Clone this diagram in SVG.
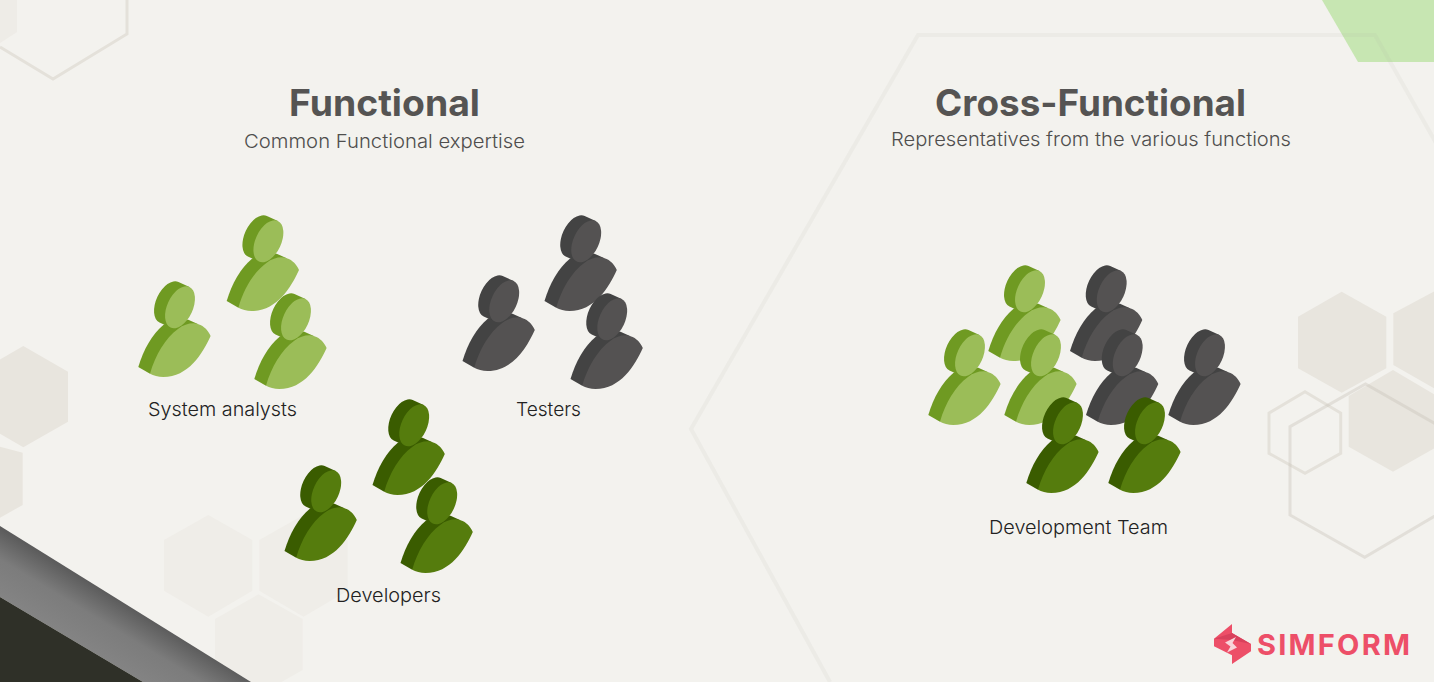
<svg xmlns="http://www.w3.org/2000/svg" xmlns:xlink="http://www.w3.org/1999/xlink" width="1434" height="682" viewBox="0 0 1434 682">
<style>
text{font-family:"Inter","Liberation Sans",sans-serif}
.title{font-size:37px;font-weight:700;fill:#555453}
.sub{font-size:19px;font-weight:300;fill:#4f4e4d}
.label{font-size:19px;font-weight:300;fill:#222}
.hex{fill:#e8e5de}
.hexl{fill:#efede8}
.line{fill:none;stroke:#e4e1da;stroke-width:3}
.big{fill:none;stroke:#b5b0a4;stroke-opacity:.1;stroke-width:4}
.s{fill:var(--s)}.f{fill:var(--f)}
.lg{--f:#9bbd58;--s:#6f9a22}
.gr{--f:#545252;--s:#434343}
.dg{--f:#557c0d;--s:#3a5c00}
</style>
<defs>
<linearGradient id="band" gradientUnits="userSpaceOnUse" x1="125" y1="604" x2="94" y2="655">
<stop offset="0" stop-color="#5c5c5c"/><stop offset=".45" stop-color="#7c7c7c"/><stop offset="1" stop-color="#848484"/>
</linearGradient>
<g id="person">
<path class="s" d="M0 85C5 68 14 52 25 43C32 38 42 37 50 37.7L60 42.3L40 70L11.7 91.7Z"/>
<path class="f" d="M11.7 91.7C17 73 27 56 40 46.7C46 42 55 40 60 42.3C66 44 70 49 72.3 54C64 72 50 95 25 95C20 95 15 93.5 11.7 91.7Z"/>
<path class="s" d="M51.2 5L40.2 0A12.8 22.4 25 0 0 21.2 40.6L32.2 45.6Z"/>
<ellipse class="f" cx="41.7" cy="25.3" rx="12.8" ry="22.4" transform="rotate(25 41.7 25.3)"/>
</g>
</defs>
<rect width="1434" height="682" fill="#f3f2ee"/>
<g id="background">
<polygon points="1322,0 1434,0 1434,62 1358,62" fill="#c7e6b2"/>
<polygon class="hex" points="0,0 17,0 17,32 0,43" opacity=".45"/>
<polygon class="hex" points="23.3,346 68,371.7 68,421.7 23.3,447.3 -21,421.7 -21,371.7"/>
<polygon class="hex" points="-22,441 22.7,452.7 22.7,505 -22,530"/>
<polygon class="hexl" points="208.3,515 252.3,540 252.3,590.7 208.3,616.7 164,590.7 164,540"/>
<polygon class="hexl" points="303.5,515 347.6,540 347.6,590.7 303.5,616.7 259.3,590.7 259.3,540"/>
<polygon class="hexl" points="258.5,594.3 302.7,619 302.7,670 258.5,695 215,670 215,619"/>
<polygon class="hex" points="1341.7,291.7 1386.3,316.7 1386.3,368.3 1341.7,392.7 1298,368.3 1298,316.7"/>
<polygon class="hex" points="1437,290 1481,313 1481,365 1437,390 1393.3,365 1393.3,313.3"/>
<polygon class="hex" points="1393,370 1437,396 1437,446.7 1393,471.7 1348.7,446.7 1348.7,396"/>
<polyline class="line" points="127,0 127,34 53,79 0,47"/>
<polygon class="line" points="1305,391.7 1340.7,413 1340.7,453.3 1305,473.3 1269,453.3 1269,413"/>
<path class="line" d="M1440 426.5L1365.5 384L1290 426.7V515L1364.7 557.3L1440 513" style="stroke:#c9c4b8;stroke-opacity:.4"/>
<polyline class="big" points="830,682 691,429 918,35 1375,35 1440,150"/>
<polygon points="0,526 251,682 143,682 0,597" fill="url(#band)"/>
<polygon points="0,597 143,682 0,682" fill="#2f3028"/>
</g>
<g id="functional-heading">
<text class="title" x="384.5" y="116" text-anchor="middle" textLength="191" lengthAdjust="spacingAndGlyphs">Functional</text>
<text class="sub" x="384.5" y="148" text-anchor="middle" textLength="281" lengthAdjust="spacingAndGlyphs">Common Functional expertise</text>
</g>
<g id="cross-functional-heading">
<text class="title" x="1090.5" y="116" text-anchor="middle" textLength="311" lengthAdjust="spacingAndGlyphs">Cross-Functional</text>
<text class="sub" x="1091" y="146" text-anchor="middle" textLength="400" lengthAdjust="spacingAndGlyphs">Representatives from the various functions</text>
</g>
<g id="system-analysts" class="lg">
<use href="#person" x="226.7" y="216"/>
<use href="#person" x="138.3" y="282"/>
<use href="#person" x="254.3" y="294"/>
<text class="label" x="222.5" y="416" text-anchor="middle" textLength="149" lengthAdjust="spacingAndGlyphs">System analysts</text>
</g>
<g id="testers" class="gr">
<use href="#person" x="544.5" y="216"/>
<use href="#person" x="462.5" y="276"/>
<use href="#person" x="570.5" y="294"/>
<text class="label" x="548.5" y="416" text-anchor="middle" textLength="65" lengthAdjust="spacingAndGlyphs">Testers</text>
</g>
<g id="developers" class="dg">
<use href="#person" x="372.5" y="400"/>
<use href="#person" x="284.5" y="466"/>
<use href="#person" x="400.5" y="478"/>
<text class="label" x="388.5" y="602" text-anchor="middle" textLength="105" lengthAdjust="spacingAndGlyphs">Developers</text>
</g>
<g id="development-team">
<g class="lg">
<use href="#person" x="988.3" y="266"/>
<use href="#person" x="928.3" y="330"/>
<use href="#person" x="1004.3" y="330"/>
</g>
<g class="gr">
<use href="#person" x="1070" y="266"/>
<use href="#person" x="1086" y="330"/>
<use href="#person" x="1168.3" y="330"/>
</g>
<g class="dg">
<use href="#person" x="1026.3" y="398"/>
<use href="#person" x="1108.3" y="398"/>
</g>
<text class="label" x="1078.5" y="534" text-anchor="middle" textLength="179" lengthAdjust="spacingAndGlyphs">Development Team</text>
</g>
<g id="simform-logo">
<polygon points="1214,638.7 1232,624 1232,633 1251,644 1251,651.3 1232,664 1232,655.3 1214,646.3" fill="#ed4f68"/>
<polygon points="1214,638.7 1232,633 1251,644 1232,640" fill="#d9415c"/>
<polygon points="1225,642.5 1236,637 1232.5,643 1237,647.5 1227,652.5 1230.5,646.5" fill="#f8d5da"/>
<text x="1333.5" y="655" text-anchor="middle" textLength="153" lengthAdjust="spacing" style="font-size:29px;font-weight:700;fill:#ed4f68">SIMFORM</text>
</g>
</svg>
